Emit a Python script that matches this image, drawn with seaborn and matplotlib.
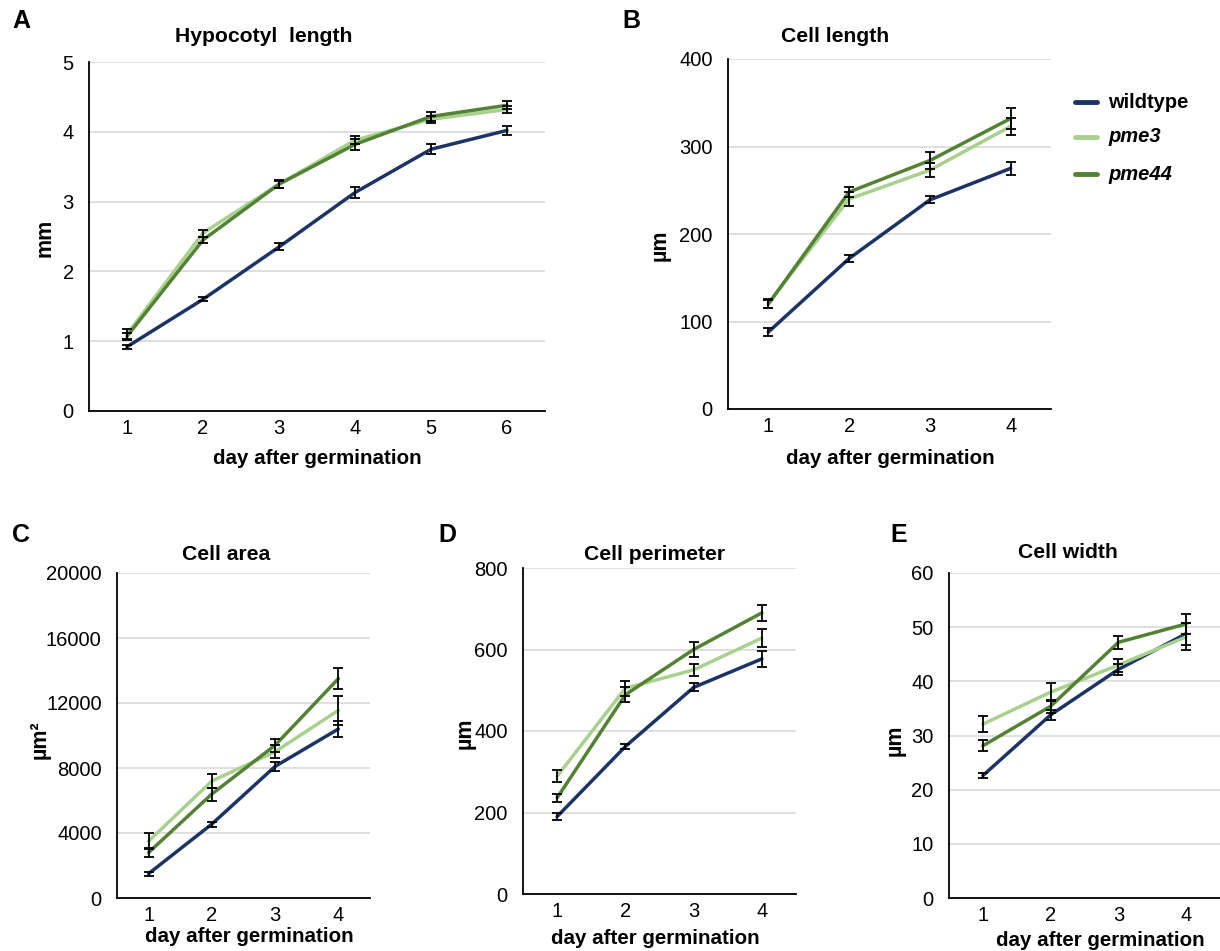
import numpy as np
import pandas as pd
import matplotlib
matplotlib.use("Agg")
import matplotlib.pyplot as plt
import seaborn as sns

sns.set_theme(style="white")
plt.rcParams['font.family'] = ['Liberation Sans', 'DejaVu Sans']

genotypes = ["wildtype", "pme3", "pme44"]
colors = {"wildtype": "#1b3463", "pme3": "#a9d18e", "pme44": "#548235"}

# Panel A: hypocotyl length (mm), days 1-6
daysA = [1, 2, 3, 4, 5, 6]
A_wt = [0.92, 1.60, 2.35, 3.13, 3.75, 4.02]
A_p3 = [1.10, 2.55, 3.25, 3.88, 4.18, 4.32]
A_p44 = [1.07, 2.45, 3.25, 3.82, 4.22, 4.38]
A_wt_err = [0.03, 0.03, 0.05, 0.08, 0.07, 0.07]
A_p3_err = [0.07, 0.05, 0.05, 0.06, 0.05, 0.05]
A_p44_err = [0.05, 0.05, 0.06, 0.08, 0.07, 0.06]

days4 = [1, 2, 3, 4]
# Panel B: cell length (µm)
B_wt = [88, 172, 239, 275]
B_p3 = [121, 240, 273, 323]
B_p44 = [120, 248, 284, 332]
B_wt_err = [5, 4, 4, 7]
B_p3_err = [5, 8, 8, 10]
B_p44_err = [5, 6, 10, 12]

# Panel C: cell area (µm²)
C_wt = [1500, 4550, 8100, 10400]
C_p3 = [3500, 7200, 9000, 11550]
C_p44 = [2800, 6400, 9400, 13500]
C_wt_err = [120, 150, 300, 500]
C_p3_err = [500, 450, 400, 900]
C_p44_err = [300, 400, 400, 650]

# Panel D: cell perimeter (µm)
D_wt = [190, 362, 507, 577]
D_p3 = [289, 505, 550, 628]
D_p44 = [236, 489, 600, 690]
D_wt_err = [8, 6, 10, 20]
D_p3_err = [15, 18, 15, 22]
D_p44_err = [10, 18, 18, 20]

# Panel E: cell width (µm)
E_wt = [22.6, 33.8, 42.2, 48.8]
E_p3 = [32.1, 38.0, 43.0, 48.2]
E_p44 = [28.1, 35.4, 47.2, 50.6]
E_wt_err = [0.5, 1.0, 1.0, 2.0]
E_p3_err = [1.5, 1.7, 1.2, 2.5]
E_p44_err = [1.0, 1.2, 1.2, 1.8]

W, H = 1220, 951
fig = plt.figure(figsize=(W / 100, H / 100), dpi=100)


def ax_px(x0, x1, ytop, ybot):
    return fig.add_axes([x0 / W, 1 - ybot / H, (x1 - x0) / W, (ybot - ytop) / H])


def panel(ax, days, series, errs, yticks, xlim):
    rows = []
    for g, vals in zip(genotypes, series):
        for d, v in zip(days, vals):
            rows.append({"day": d, "value": v, "genotype": g})
    df = pd.DataFrame(rows)
    for g, vals, e in zip(genotypes, series, errs):
        ax.errorbar(days, vals, yerr=e, fmt="none", ecolor="black",
                    elinewidth=1.3, capsize=3.8, capthick=1.3, zorder=4)
    sns.lineplot(data=df, x="day", y="value", hue="genotype", palette=colors,
                 hue_order=genotypes, linewidth=2.5, ax=ax, legend=False,
                 errorbar=None, zorder=3)
    ax.set_xlim(*xlim)
    ax.set_ylim(yticks[0], yticks[-1])
    ax.set_yticks(yticks)
    ax.set_xticks(days)
    ax.set_xlabel("")
    ax.set_ylabel("")
    ax.yaxis.grid(True, color="#d9d9d9", linewidth=1.2)
    ax.xaxis.grid(False)
    ax.set_axisbelow(True)
    for s in ["top", "right"]:
        ax.spines[s].set_visible(False)
    for s in ["left", "bottom"]:
        ax.spines[s].set_color("black")
        ax.spines[s].set_linewidth(1.3)
    ax.tick_params(axis="both", length=0, labelsize=14.5, colors="black")
    ax.tick_params(axis="y", pad=11)
    ax.tick_params(axis="x", pad=6)


axA = ax_px(89, 545, 62, 411)
panel(axA, daysA, [A_wt, A_p3, A_p44], [A_wt_err, A_p3_err, A_p44_err],
      [0, 1, 2, 3, 4, 5], (0.5, 6.5))
axB = ax_px(728, 1051, 59, 409)
panel(axB, days4, [B_wt, B_p3, B_p44], [B_wt_err, B_p3_err, B_p44_err],
      [0, 100, 200, 300, 400], (0.5, 4.5))
axC = ax_px(117, 370, 573, 898)
panel(axC, days4, [C_wt, C_p3, C_p44], [C_wt_err, C_p3_err, C_p44_err],
      [0, 4000, 8000, 12000, 16000, 20000], (0.5, 4.5))
axD = ax_px(523, 796, 568, 894)
panel(axD, days4, [D_wt, D_p3, D_p44], [D_wt_err, D_p3_err, D_p44_err],
      [0, 200, 400, 600, 800], (0.5, 4.5))
axE = ax_px(949, 1220, 573, 898)
panel(axE, days4, [E_wt, E_p3, E_p44], [E_wt_err, E_p3_err, E_p44_err],
      [0, 10, 20, 30, 40, 50, 60], (0.5, 4.5))


def ftext(x, y, s, **kw):
    fig.text(x / W, 1 - y / H, s, **kw)


# panel letters
for (x, y, s) in [(21, 21, "A"), (631, 21, "B"), (21, 535, "C"), (447, 535, "D"), (899, 535, "E")]:
    ftext(x, y, s, fontsize=18, fontweight="bold", ha="center", va="center",
          color="black")

# titles
for (x, y, s) in [(264, 36, "Hypocotyl  length"), (835, 36, "Cell length"),
                  (226, 554, "Cell area"), (655, 554, "Cell perimeter"),
                  (1068, 553, "Cell width")]:
    ftext(x, y, s, fontsize=15.2, fontweight="bold", ha="center", va="center",
          color="black")

# x labels
for (x, y) in [(317, 459), (890, 458), (249, 937), (655, 938), (1100, 940)]:
    ftext(x, y, "day after germination", fontsize=14.8, fontweight="bold",
          ha="center", va="center", color="black")

# y labels
for (x, y, s) in [(45, 238, "mm"), (660, 245, "µm"), (40, 740, "µm²"),
                  (465, 733, "µm"), (895, 740, "µm")]:
    ftext(x, y, s, fontsize=15.5, fontweight="bold", ha="center", va="center",
          rotation=90, color="black")

# legend (drawn manually in figure space)
for (y, g, style) in [(102, "wildtype", "normal"), (137, "pme3", "italic"),
                      (174, "pme44", "italic")]:
    fig.add_artist(plt.Line2D([1075 / W, 1097 / W], [1 - y / H, 1 - y / H],
                              color=colors[g], linewidth=3.5,
                              transform=fig.transFigure))
    ftext(1108, y, g, fontsize=14.5, fontweight="bold", fontstyle=style,
          ha="left", va="center", color="black")

fig.savefig("out.png", dpi=100)
